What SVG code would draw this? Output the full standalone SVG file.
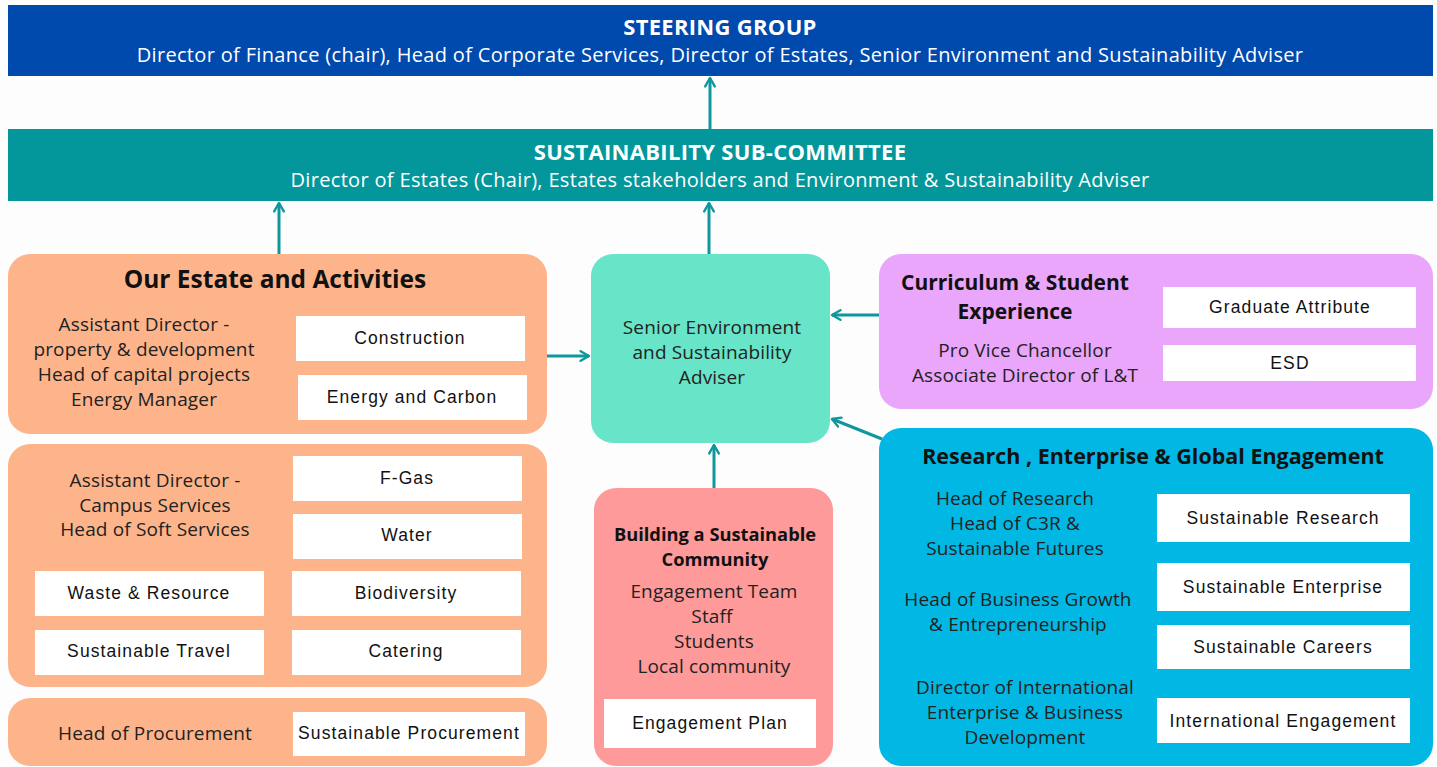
<svg xmlns="http://www.w3.org/2000/svg" width="1437" height="767" viewBox="0 0 1437 767">
<defs>
<marker id="ah" viewBox="0 0 10 10" refX="8" refY="5" markerWidth="4" markerHeight="4" orient="auto" markerUnits="strokeWidth">
<path d="M1,1 L8,5 L1,9" fill="none" stroke="#0e979c" stroke-width="2" stroke-linecap="round" stroke-linejoin="round"/>
</marker>
<style>
.bg{fill:#fdfdfd}
.t{font-family:"Open Sans","DejaVu Sans",sans-serif;text-anchor:middle}
.hw{fill:#fff;font-weight:700;font-size:22px;letter-spacing:0.3px}
.sw{fill:#fff;font-size:20px;letter-spacing:0.33px}
.h{fill:#111;font-weight:700}
.b{fill:#222;font-size:19px;letter-spacing:0.15px}
.wb{fill:#fff}
.wl{font-family:"Liberation Sans",Arial,sans-serif;text-anchor:middle;fill:#111;font-size:17.5px;letter-spacing:1.1px}
.c{stroke:#0e979c;stroke-width:3;fill:none;marker-end:url(#ah)}
</style>
</defs>
<rect class="bg" x="0" y="0" width="1437" height="767"/>

<g id="steering">
<rect x="8" y="5" width="1425" height="71" fill="#0049ad"/>
<text class="t hw" x="720" y="35">STEERING GROUP</text>
<text class="t sw" x="720" y="62">Director of Finance (chair), Head of Corporate Services, Director of Estates, Senior Environment and Sustainability Adviser</text>
</g>

<g id="subcommittee">
<rect x="8" y="129" width="1425" height="72" fill="#03979b"/>
<text class="t hw" x="720" y="160">SUSTAINABILITY SUB-COMMITTEE</text>
<text class="t sw" x="720" y="187">Director of Estates (Chair), Estates stakeholders and Environment &amp; Sustainability Adviser</text>
</g>

<g id="estate">
<rect x="8" y="254" width="539" height="180" rx="22" fill="#feb48b"/>
<text class="t h" x="275" y="288" font-size="24.5">Our Estate and Activities</text>
<text class="t b" x="144" y="331">Assistant Director -</text>
<text class="t b" x="144" y="356">property &amp; development</text>
<text class="t b" x="144" y="381">Head of capital projects</text>
<text class="t b" x="144" y="406">Energy Manager</text>
<rect class="wb" x="296" y="316" width="229" height="45"/>
<text class="wl" x="410" y="344">Construction</text>
<rect class="wb" x="298" y="375" width="229" height="45"/>
<text class="wl" x="412" y="403">Energy and Carbon</text>
</g>

<g id="campus">
<rect x="8" y="444" width="539" height="243" rx="22" fill="#feb48b"/>
<text class="t b" x="155" y="487">Assistant Director -</text>
<text class="t b" x="155" y="512">Campus Services</text>
<text class="t b" x="155" y="536">Head of Soft Services</text>
<rect class="wb" x="293" y="456" width="229" height="45"/>
<text class="wl" x="407" y="484">F-Gas</text>
<rect class="wb" x="293" y="514" width="229" height="45"/>
<text class="wl" x="407" y="541">Water</text>
<rect class="wb" x="35" y="571" width="229" height="45"/>
<text class="wl" x="149" y="599">Waste &amp; Resource</text>
<rect class="wb" x="292" y="571" width="229" height="45"/>
<text class="wl" x="406" y="599">Biodiversity</text>
<rect class="wb" x="35" y="630" width="229" height="45"/>
<text class="wl" x="149" y="657">Sustainable Travel</text>
<rect class="wb" x="292" y="630" width="229" height="45"/>
<text class="wl" x="406" y="657">Catering</text>
</g>

<g id="procurement">
<rect x="8" y="698" width="539" height="68" rx="22" fill="#feb48b"/>
<text class="t b" x="155" y="740">Head of Procurement</text>
<rect class="wb" x="293" y="712" width="232" height="44"/>
<text class="wl" x="409" y="739">Sustainable Procurement</text>
</g>

<g id="adviser">
<rect x="591" y="254" width="239" height="189" rx="22" fill="#68e4c8"/>
<text class="t b" x="712" y="334">Senior Environment</text>
<text class="t b" x="712" y="359">and Sustainability</text>
<text class="t b" x="712" y="384">Adviser</text>
</g>

<g id="community">
<rect x="594" y="488" width="239" height="278" rx="22" fill="#fe9a99"/>
<text class="t h" x="715" y="541" font-size="18.3">Building a Sustainable</text>
<text class="t h" x="715" y="566" font-size="18.3">Community</text>
<text class="t b" x="714" y="598">Engagement Team</text>
<text class="t b" x="712" y="623">Staff</text>
<text class="t b" x="714" y="648">Students</text>
<text class="t b" x="714" y="673">Local community</text>
<rect class="wb" x="604" y="699" width="212" height="49"/>
<text class="wl" x="710" y="729">Engagement Plan</text>
</g>

<g id="curriculum">
<rect x="879" y="254" width="554" height="155" rx="22" fill="#eaa6fa"/>
<text class="t h" x="1015" y="290" font-size="21">Curriculum &amp; Student</text>
<text class="t h" x="1015" y="319" font-size="21">Experience</text>
<text class="t b" x="1025" y="357">Pro Vice Chancellor</text>
<text class="t b" x="1025" y="382">Associate Director of L&amp;T</text>
<rect class="wb" x="1163" y="287" width="253" height="41"/>
<text class="wl" x="1290" y="313">Graduate Attribute</text>
<rect class="wb" x="1163" y="345" width="253" height="36"/>
<text class="wl" x="1290" y="369">ESD</text>
</g>

<g id="research">
<rect x="879" y="428" width="554" height="338" rx="22" fill="#00b8e3"/>
<text class="t h" x="1153" y="464" font-size="21.5">Research , Enterprise &amp; Global Engagement</text>
<text class="t b" x="1015" y="505">Head of Research</text>
<text class="t b" x="1015" y="530">Head of C3R &amp;</text>
<text class="t b" x="1015" y="555">Sustainable Futures</text>
<text class="t b" x="1018" y="606">Head of Business Growth</text>
<text class="t b" x="1018" y="631">&amp; Entrepreneurship</text>
<text class="t b" x="1025" y="694">Director of International</text>
<text class="t b" x="1025" y="719">Enterprise &amp; Business</text>
<text class="t b" x="1025" y="744">Development</text>
<rect class="wb" x="1157" y="494" width="253" height="48"/>
<text class="wl" x="1283" y="524">Sustainable Research</text>
<rect class="wb" x="1157" y="563" width="253" height="48"/>
<text class="wl" x="1283" y="593">Sustainable Enterprise</text>
<rect class="wb" x="1157" y="625" width="253" height="44"/>
<text class="wl" x="1283" y="653">Sustainable Careers</text>
<rect class="wb" x="1157" y="698" width="253" height="45"/>
<text class="wl" x="1283" y="727">International Engagement</text>
</g>

<g id="connectors">
<line class="c" x1="710" y1="129" x2="710" y2="78"/>
<line class="c" x1="279" y1="254" x2="279" y2="203"/>
<line class="c" x1="709" y1="254" x2="709" y2="203"/>
<line class="c" x1="547" y1="356" x2="589" y2="356"/>
<line class="c" x1="879" y1="315" x2="832" y2="315"/>
<line class="c" x1="714" y1="488" x2="714" y2="445"/>
<line class="c" x1="882" y1="439" x2="832" y2="419"/>
</g>
</svg>
